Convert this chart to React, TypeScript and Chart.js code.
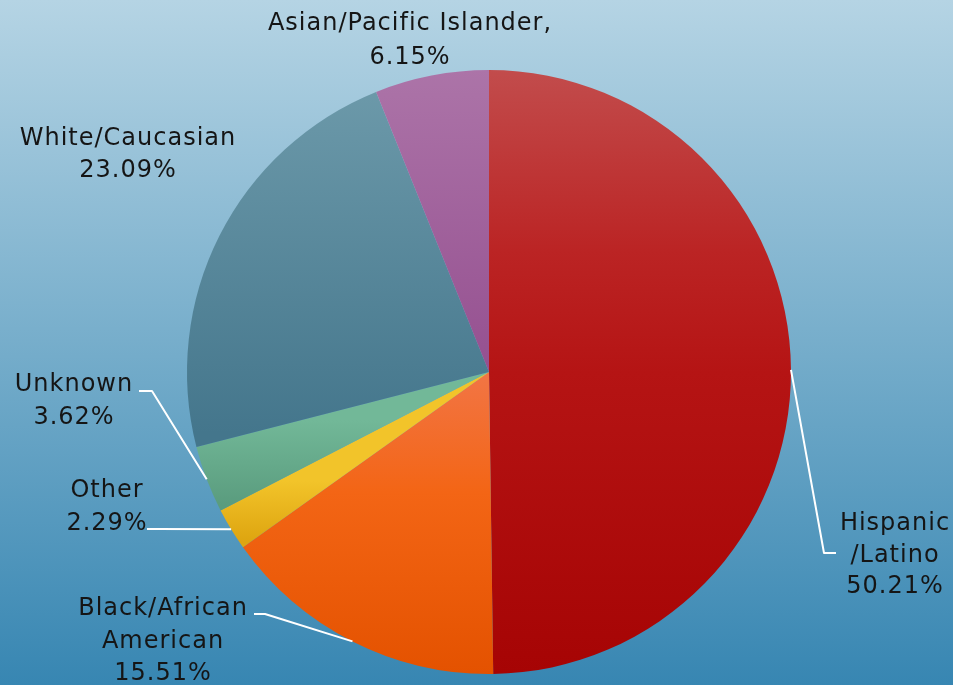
import React, { useEffect, useRef } from "react";
import { Chart, registerables } from "chart.js";

Chart.register(...registerables);

const categories = [
  "Hispanic/Latino",
  "Black/African American",
  "Other",
  "Unknown",
  "White/Caucasian",
  "Asian/Pacific Islander",
];
const percentages = [50.21, 15.51, 2.29, 3.62, 23.09, 6.15];
const labelLines = [
  ["Hispanic", "/Latino", "50.21%"],
  ["Black/African", "American", "15.51%"],
  ["Other", "2.29%"],
  ["Unknown", "3.62%"],
  ["White/Caucasian", "23.09%"],
  ["Asian/Pacific Islander,", "6.15%"],
];

// gradient stops per slice (relative to the pie's vertical extent)
const sliceStops: [number, string][][] = [
  [[0, "#c24c4c"], [0.3, "#bb2424"], [0.5, "#b51414"], [1, "#a60404"]],
  [[0.5, "#f27545"], [0.7, "#f36515"], [1, "#e45200"]],
  [[0.68, "#f2c42a"], [0.78, "#dea510"]],
  [[0.58, "#72b898"], [0.72, "#5a9c7e"]],
  [[0, "#6e9bab"], [0.6, "#44768c"]],
  [[0, "#ac74a8"], [0.5, "#955090"]],
];

// label placement: center x, first baseline y, line height
const labelPos = [
  { x: 895, y: 530, lh: 31.5 },
  { x: 163, y: 615, lh: 32.5 },
  { x: 107, y: 497, lh: 32.5 },
  { x: 74, y: 391, lh: 32.5 },
  { x: 128, y: 145, lh: 31.7 },
  { x: 410, y: 30, lh: 33.5 },
];
// leader lines: label-side points, then the arc midpoint
const leaders: ([number, number][] | null)[] = [
  [[836, 553], [824, 553]],
  [[254, 614], [265, 614]],
  [[147, 529], [158, 529]],
  [[139, 391], [152, 391]],
  null,
  null,
];

const labelPlugin = {
  id: "sliceLabels",
  afterDraw(chart: any) {
    const ctx = chart.ctx;
    const meta = chart.getDatasetMeta(0);
    ctx.save();
    // leaders
    ctx.strokeStyle = "#ffffff";
    ctx.lineWidth = 2;
    ctx.lineJoin = "round";
    meta.data.forEach((arc: any, i: number) => {
      const pts = leaders[i];
      if (!pts) return;
      const { x, y, startAngle, endAngle, outerRadius } = arc.getProps(
        ["x", "y", "startAngle", "endAngle", "outerRadius"],
        true
      );
      const mid = (startAngle + endAngle) / 2;
      const px = x + Math.cos(mid) * outerRadius;
      const py = y + Math.sin(mid) * outerRadius;
      ctx.beginPath();
      ctx.moveTo(pts[0][0], pts[0][1]);
      for (let k = 1; k < pts.length; k++) ctx.lineTo(pts[k][0], pts[k][1]);
      ctx.lineTo(px, py);
      ctx.stroke();
    });
    // text
    ctx.fillStyle = "#151515";
    ctx.font = '24px "DejaVu Sans", sans-serif';
    ctx.textAlign = "center";
    ctx.textBaseline = "alphabetic";
    try {
      (ctx as any).letterSpacing = "1px";
    } catch (e) {}
    labelLines.forEach((lines, i) => {
      const p = labelPos[i];
      lines.forEach((t, j) => {
        ctx.fillText(t, p.x, p.y + j * p.lh);
      });
    });
    ctx.restore();
  },
};

export default function App() {
  const ref = useRef<HTMLCanvasElement>(null);
  useEffect(() => {
    if (!ref.current) return;
    const chart = new Chart(ref.current, {
      type: "pie",
      data: {
        labels: categories,
        datasets: [
          {
            data: percentages,
            borderWidth: 0,
            backgroundColor: (c: any) => {
              const chart = c.chart;
              const area = chart.chartArea;
              const stops = sliceStops[c.dataIndex] || sliceStops[0];
              if (!area) return stops[0][1];
              const g = chart.ctx.createLinearGradient(0, area.top, 0, area.bottom);
              stops.forEach(([t, col]) => g.addColorStop(t, col));
              return g;
            },
          },
        ],
      },
      options: {
        responsive: false,
        animation: false,
        devicePixelRatio: 1,
        layout: { padding: { top: 70, bottom: 11, left: 100, right: 75 } },
        plugins: {
          legend: { display: false },
          tooltip: { enabled: false },
        },
      },
      plugins: [labelPlugin],
    });
    return () => chart.destroy();
  }, []);
  return (
    <div
      style={{
        position: "fixed",
        left: 0,
        top: 0,
        width: 953,
        height: 685,
        background: "linear-gradient(to bottom, #b5d4e4 0%, #74acca 52%, #3786b2 100%)",
      }}
    >
      <canvas ref={ref} width={953} height={685} style={{ display: "block" }} />
    </div>
  );
}
